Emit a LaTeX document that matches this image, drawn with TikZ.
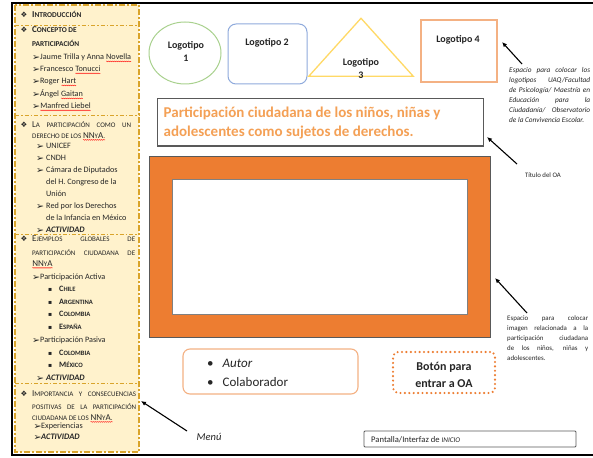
\documentclass[tikz,border=0pt]{standalone}
\usepackage{fontspec}
\setmainfont{Carlito}
\newfontfamily\symfont{DejaVu Sans}
\usetikzlibrary{arrows.meta,shapes.geometric,decorations.pathmorphing}

\definecolor{sidefill}{HTML}{FFF2CC}
\definecolor{sideline}{HTML}{D9A42B}
\definecolor{logogreen}{HTML}{A9D18E}
\definecolor{logoblue}{HTML}{8FAADC}
\definecolor{logoyellow}{HTML}{FFD966}
\definecolor{lightor}{HTML}{F4B183}
\definecolor{deepor}{HTML}{ED7D31}
\definecolor{titleor}{HTML}{F4A055}
\definecolor{boxgray}{HTML}{595959}
\definecolor{txtgray}{HTML}{262626}

% larger capital inside a small-caps run
\newcommand\HC[2][9]{{\fontsize{#1}{#1}\selectfont #2}}
% word marked with a red wavy underline
\newcommand\sq[1]{\tikz[baseline=(w.base)]{\node[inner sep=0pt,outer sep=0pt,anchor=base west](w){#1};\draw[squig]([yshift=-1.7pt]w.base west)--([yshift=-1.7pt]w.base east);}}

\tikzset{
  squig/.style={draw=red, line width=0.35pt, decorate, decoration={snake, amplitude=0.45pt, segment length=2pt}},
  sidebox/.style={draw=sideline, line width=1.3pt, dash pattern=on 6pt off 2pt on 2pt off 2pt},
  divline/.style={draw=sideline, line width=0.9pt, dash pattern=on 4pt off 2pt on 1.5pt off 2pt},
  hd/.style={anchor=base west, inner sep=0pt, text=txtgray, font=\fontsize{7}{9}\selectfont},
  hdb/.style={hd, font=\fontsize{7.4}{9}\selectfont\bfseries},
  li/.style={anchor=base west, inner sep=0pt, text=txtgray, font=\fontsize{8.2}{10}\selectfont},
  cty/.style={anchor=base west, inner sep=0pt, text=txtgray, font=\fontsize{6.6}{8}\selectfont\bfseries},
  act/.style={anchor=base west, inner sep=0pt, text=txtgray, font=\fontsize{8.4}{10}\selectfont\bfseries\itshape},
  diam/.style={anchor=base west, inner sep=0pt, text=txtgray, font=\symfont\fontsize{7.5}{8}\selectfont},
  arrh/.style={anchor=base west, inner sep=0pt, text=txtgray, font=\symfont\fontsize{9.5}{10}\selectfont},
  sqb/.style={anchor=base west, inner sep=0pt, text=txtgray, font=\symfont\fontsize{6}{7}\selectfont},
  logotxt/.style={inner sep=0pt, font=\fontsize{10}{13}\selectfont\bfseries, text=txtgray},
  note/.style={anchor=north west, inner sep=0pt, align=left, text=txtgray},
  arr/.style={draw=black, line width=1.1pt, -{Latex[length=5pt,width=4.5pt]}},
}

\begin{document}
\begin{tikzpicture}[x=1pt,y=-1pt]
\useasboundingbox (0,0) rectangle (593,457);
\fill[white] (0,0) rectangle (593,457);

% page frame
\draw[line width=2pt] (11,3) -- (593,3);
\draw[line width=1.8pt] (12,3) -- (12,455) -- (593,455);

% ---------------- side menu ----------------
\fill[sidefill] (15,5) rectangle (139,452);
\draw[divline] (15,25) -- (139,25);
\draw[divline] (15,115) -- (139,115);
\draw[divline] (15,234) -- (139,234);
\draw[divline] (15,383) -- (139,383);
\draw[sidebox] (15,5) rectangle (139,452);

% section 1
\node[diam] (d1) at (20.5,17.7) {❖};
\node[hdb] (h1) at (32,17.7) {\HC{I}NTRODUCCIÓN};
\node[diam] (d2) at (20.5,32.7) {❖};
\node[hdb] (h2) at (32,32.7) {\HC{C}ONCEPTO DE};
\node[hdb] (h2b) at (32,46.5) {PARTICIPACIÓN};
\node[arrh] (a1) at (32,60.3) {➢};
\node[li] (t1) at (40,59.7) {Jaume Trilla y Anna \sq{Novella}};
\node[arrh] (a2) at (32,72.3) {➢};
\node[li] (t2) at (40,71.7) {Francesco \sq{Tonucci}};
\node[arrh] (a3) at (32,84.3) {➢};
\node[li] (t3) at (40,83.7) {Roger \sq{Hart}};
\node[arrh] (a4) at (32,97.3) {➢};
\node[li] (t4) at (40,96.7) {Ángel \sq{Gaitan}};
\node[arrh] (a5) at (32,109.3) {➢};
\node[li] (t5) at (40,108.7) {\sq{Manfred Liebel}};

% section 2
\node[diam] (d3) at (20.5,127.7) {❖};
\node[hd] (h3) at (32,127.7) {\makebox[99pt][s]{\HC{L}A PARTICIPACIÓN COMO UN}};
\node[hd] (h3b) at (32,138.2) {DERECHO DE LOS \sq{\HC{NN}Y\HC{A}.}};
\node[arrh] (b1) at (36,149.3) {➢};
\node[li] (u1) at (46,148.7) {UNICEF};
\node[arrh] (b2) at (36,161.3) {➢};
\node[li] (u2) at (46,160.7) {CNDH};
\node[arrh] (b3) at (36,173.3) {➢};
\node[li] (u3) at (46,172.7) {Cámara de Diputados};
\node[li] (u3b) at (46,184.7) {del H. Congreso de la};
\node[li] (u3c) at (46,196.2) {Unión};
\node[arrh] (b4) at (36,209.3) {➢};
\node[li] (u4) at (46,208.7) {Red por los Derechos};
\node[li] (u4b) at (46,220.2) {de la Infancia en México};
\node[arrh] (b5) at (36,233.3) {➢};
\node[act] (u5) at (46,232.7) {ACTIVIDAD};

% section 3
\node[diam] (d4) at (20.5,241.7) {❖};
\node[hd] (h4) at (32,241.7) {\makebox[103pt][s]{\HC{E}JEMPLOS GLOBALES DE}};
\node[hd] (h4b) at (32,255.7) {\makebox[103pt][s]{PARTICIPACIÓN CIUDADANA DE}};
\node[hd] (h4c) at (32,266.2) {\sq{\HC{NN}Y\HC{A}}};
\node[arrh] (c1) at (32,280.3) {➢};
\node[li] (v1) at (40,279.7) {Participación Activa};
\node[sqb] (e1) at (48,291.5) {▪};
\node[cty] (w1) at (59,291.7) {\HC[8.2]{C}HILE};
\node[sqb] (e2) at (48,304.5) {▪};
\node[cty] (w2) at (59,304.7) {\HC[8.2]{A}RGENTINA};
\node[sqb] (e3) at (48,316.5) {▪};
\node[cty] (w3) at (59,316.7) {\HC[8.2]{C}OLOMBIA};
\node[sqb] (e4) at (48,329.5) {▪};
\node[cty] (w4) at (59,329.7) {\HC[8.2]{E}SPAÑA};
\node[arrh] (c2) at (32,343.3) {➢};
\node[li] (v2) at (40,342.7) {Participación Pasiva};
\node[sqb] (e5) at (48,355.5) {▪};
\node[cty] (w5) at (59,355.7) {\HC[8.2]{C}OLOMBIA};
\node[sqb] (e6) at (48,367.5) {▪};
\node[cty] (w6) at (59,367.7) {\HC[8.2]{M}ÉXICO};
\node[arrh] (c3) at (36,381.3) {➢};
\node[act] (v3) at (46,380.7) {ACTIVIDAD};

% section 4
\node[diam] (d5) at (20.5,396.7) {❖};
\node[hd] (h5) at (32,396.7) {\makebox[104pt][s]{\HC{I}MPORTANCIA Y CONSECUENCIAS}};
\node[hd] (h5b) at (32,409.7) {\makebox[104pt][s]{POSITIVAS DE LA PARTICIPACIÓN}};
\node[hd] (h5c) at (32,420.2) {CIUDADANA DE LOS \sq{\HC{NN}Y\HC{A}.}};
\node[arrh] (f1) at (33.5,429.5) {➢};
\node[li] (x1) at (41,428.9) {Experiencias};
\node[arrh] (f2) at (33.5,440.3) {➢};
\node[act] (x2) at (41,439.7) {ACTIVIDAD};

% ---------------- logos ----------------
\node[draw=logogreen, line width=1pt, ellipse, minimum width=72pt, minimum height=62pt] (logo1) at (185,53) {};
\node[logotxt, align=center] (logo1t) at (186,51) {Logotipo\\1};
\node[draw=logoblue, line width=1pt, rounded corners=8pt, minimum width=79pt, minimum height=60pt] (logo2) at (267.5,54) {};
\node[logotxt] (logo2t) at (267,43) {Logotipo 2};
\node[draw=logoyellow, line width=1.3pt, isosceles triangle, isosceles triangle apex angle=84, shape border rotate=90, minimum height=58pt, inner sep=0pt] (logo3) at (361,53) {};
\begin{scope}
  \clip (330,50) rectangle (395,77.5);
  \node[logotxt, align=center] (logo3t) at (361,68.5) {Logotipo\\3};
\end{scope}
\node[draw=lightor, line width=1.2pt, minimum width=76pt, minimum height=62pt] (logo4) at (459,51) {};
\node[logotxt] (logo4t) at (458,40) {Logotipo 4};

\coordinate (n1tip) at (502,42);
\coordinate (n1tail) at (522,64);
\draw[arr] (n1tail) -- (n1tip);
\node[note, font=\fontsize{7.3}{10}\selectfont\itshape] (note1) at (509,67.5) {%
\makebox[81pt][s]{Espacio para colocar los}\\
\makebox[81pt][s]{logotipos UAQ/Facultad}\\
\makebox[81pt][s]{de Psicología/ Maestría en}\\
\makebox[81pt][s]{Educación para la}\\
\makebox[81pt][s]{Ciudadanía/ Observatorio}\\
de la Convivencia Escolar.};

% ---------------- title ----------------
\node[draw=boxgray, line width=1pt, fill=white, minimum width=326pt, minimum height=47pt, inner sep=0pt] (titlebox) at (320.5,122.5) {};
\node[anchor=base west, inner sep=0pt, text=titleor, font=\fontsize{15}{19}\selectfont\bfseries] (title1) at (163.5,118) {Participación ciudadana de los niños, niñas y};
\node[anchor=base west, inner sep=0pt, text=titleor, font=\fontsize{15}{19}\selectfont\bfseries] (title2) at (163.5,137) {adolescentes como sujetos de derechos.};

\coordinate (n2tip) at (487,137);
\coordinate (n2tail) at (517,164);
\draw[arr] (n2tail) -- (n2tip);
\node[inner sep=0pt, text=txtgray, font=\fontsize{6.8}{8}\selectfont] (note2) at (543,175) {Título del OA};

% ---------------- image area ----------------
\node[draw=boxgray, line width=0.8pt, fill=deepor, minimum width=341pt, minimum height=181pt, inner sep=0pt] (imgframe) at (319.5,246.5) {};
\node[draw=gray, line width=0.8pt, fill=white, minimum width=295pt, minimum height=135pt, inner sep=0pt] (imgarea) at (319.5,246.5) {};

\coordinate (n3tip) at (495,278);
\coordinate (n3tail) at (527,313);
\draw[arr] (n3tail) -- (n3tip);
\node[note, font=\fontsize{6.9}{10.1}\selectfont] (note3) at (507,315.3) {%
\makebox[81pt][s]{Espacio para colocar}\\
\makebox[81pt][s]{imagen relacionada a la}\\
\makebox[81pt][s]{participación ciudadana}\\
\makebox[81pt][s]{de los niños, niñas y}\\
adolescentes.};

% ---------------- credits and button ----------------
\node[draw=lightor, line width=1.1pt, rounded corners=7pt, minimum width=175pt, minimum height=45pt] (credits) at (270.5,371.5) {};
\node[anchor=base west, inner sep=0pt, font=\fontsize{13}{16}\selectfont, text=txtgray] (cb1) at (207,367.5) {\textbullet};
\node[anchor=base west, inner sep=0pt, font=\fontsize{13}{16}\selectfont\itshape, text=txtgray] (cr1) at (222.5,367.5) {Autor};
\node[anchor=base west, inner sep=0pt, font=\fontsize{13}{16}\selectfont, text=txtgray] (cb2) at (207,386.5) {\textbullet};
\node[anchor=base west, inner sep=0pt, font=\fontsize{13}{16}\selectfont, text=txtgray] (cr2) at (222.5,386.5) {Colaborador};

\node[draw=deepor, line width=2.4pt, line cap=round, dash pattern=on 0pt off 4.4pt, rounded corners=5pt, minimum width=102pt, minimum height=41pt] (btn) at (444,372.5) {};
\node[inner sep=0pt, align=center, font=\fontsize{12}{17}\selectfont\bfseries, text=txtgray] (btnt) at (444,374.5) {Botón para\\entrar a OA};

% ---------------- menu pointer and screen label ----------------
\node[inner sep=0pt, font=\fontsize{10.5}{12}\selectfont\itshape, text=txtgray] (menu) at (209,437) {Menú};
\coordinate (n4tip) at (141,401);
\coordinate (n4tail) at (187,431);
\draw[arr] (n4tail) -- (n4tip);

\node[draw=boxgray, line width=0.8pt, rounded corners=1pt, minimum width=212pt, minimum height=16pt] (screen) at (470,439) {};
\node[anchor=base west, inner sep=0pt, font=\fontsize{8.6}{10}\selectfont, text=txtgray] (screent) at (371,442) {Pantalla/Interfaz de \textit{\fontsize{7.2}{9}\selectfont INICIO}};
\end{tikzpicture}
\end{document}
